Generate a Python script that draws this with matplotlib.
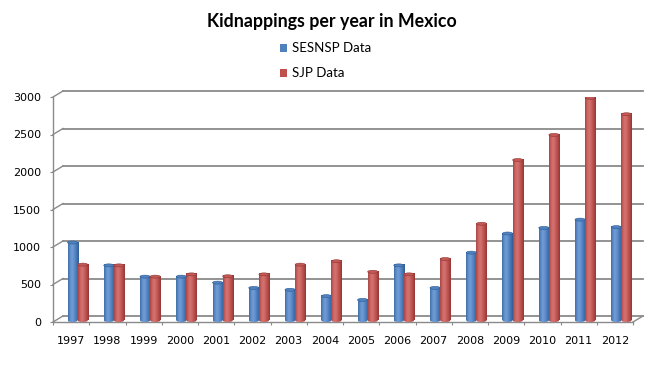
import numpy as np
import matplotlib.pyplot as plt
from matplotlib.patches import Ellipse
from matplotlib.colors import to_rgb

years = ['1997', '1998', '1999', '2000', '2001', '2002', '2003', '2004',
         '2005', '2006', '2007', '2008', '2009', '2010', '2011', '2012']
sesnsp = [1040, 735, 585, 585, 505, 435, 410, 325, 275, 735, 435, 905, 1160, 1235, 1345, 1245]
sjp = [745, 735, 585, 615, 590, 615, 745, 790, 650, 615, 820, 1290, 2140, 2475, 2970, 2750]
yticks = [0, 500, 1000, 1500, 2000, 2500, 3000]

fig = plt.figure(figsize=(6.59, 3.68), dpi=100)
ax = fig.add_axes([53 / 659, 46 / 368, 580 / 659, 225 / 368])
ax.set_xlim(-0.5, 15.5)
ax.set_ylim(0, 3000)

# depth offset of the back wall (10 px right, 6 px up)
dx = 10 / 36.25
dy = 6 / 0.075
grid_c = '#8a8a8a'
for v in yticks:
    ax.plot([-0.5 + dx, 15.5 + dx], [v + dy, v + dy], color=grid_c, lw=1.3,
            clip_on=False, zorder=1)
    ax.plot([-0.5, -0.5 + dx], [v, v + dy], color=grid_c, lw=1.0,
            clip_on=False, zorder=1)
ax.plot([15.5, 15.5 + dx], [0, dy], color=grid_c, lw=1.0, clip_on=False, zorder=1)


def shade(base, light, dark, n=64):
    # cylinder look: dark edges, soft highlight left of centre
    t = np.linspace(0, 1, n)
    b, l, d = np.array(to_rgb(base)), np.array(to_rgb(light)), np.array(to_rgb(dark))
    hi = np.exp(-((t - 0.38) / 0.25) ** 2)[:, None]
    edge = (np.abs(t - 0.45) / 0.55)[:, None] ** 2.5
    cols = b * (1 - edge) + d * edge
    cols = cols * (1 - hi) + l * hi
    return np.clip(cols, 0, 1)[np.newaxis, :, :]


styles = [
    (sesnsp, 0.04, '#4A7EBE', '#6f9ad4', '#2f5a92', '#4f82c0'),
    (sjp, 0.32, '#C0504D', '#d2716e', '#8f3634', '#c45855'),
]
w = 0.28
base = 20
cap = 40
x = np.arange(len(years))
for vals, off, col, light, dark, topc in styles:
    img = shade(col, light, dark)
    for xi, v in zip(x, vals):
        x0 = xi + off - w / 2
        x1 = xi + off + w / 2
        ax.imshow(img, extent=(x0, x1, base, base + v), aspect='auto',
                  interpolation='bilinear', zorder=3)
        bot = Ellipse((xi + off, base), w, cap, facecolor='none', edgecolor='none')
        ax.add_patch(bot)
        im2 = ax.imshow(img, extent=(x0, x1, base - cap / 2, base), aspect='auto',
                        interpolation='bilinear', zorder=3)
        im2.set_clip_path(bot)
        ax.add_patch(Ellipse((xi + off, base + v), w, cap, facecolor=topc,
                             edgecolor=dark, lw=0.4, zorder=4))

ax.set_xlim(-0.5, 15.5)
ax.set_ylim(0, 3000)

for s in ['top', 'right']:
    ax.spines[s].set_visible(False)
for s in ['left', 'bottom']:
    ax.spines[s].set_color(grid_c)
    ax.spines[s].set_linewidth(1.0)

ax.set_yticks(yticks)
ax.set_yticklabels([str(v) for v in yticks], fontsize=8, family='DejaVu Sans')
ax.set_xticks(x)
ax.set_xticklabels(years, fontsize=8, family='DejaVu Sans')
ax.set_xticks(np.arange(-0.5, 16, 1), minor=True)
ax.tick_params(axis='y', length=2.5, width=0.8, color=grid_c, pad=6)
ax.tick_params(axis='x', which='major', length=0, pad=10)
ax.tick_params(axis='x', which='minor', length=2.5, width=0.8, color=grid_c)

fig.text(332 / 659, 1 - 22 / 368, 'Kidnappings per year in Mexico', ha='center',
         va='center', fontsize=12.8, fontweight='bold', family='Lato')
for label, col, yy in [('SESNSP Data', '#4F81BD', 48), ('SJP Data', '#C0504D', 73)]:
    fig.patches.append(plt.Rectangle((280 / 659, 1 - (yy + 3.5) / 368), 7 / 659, 7 / 368,
                                     transform=fig.transFigure, facecolor=col,
                                     edgecolor='none'))
    fig.text(292 / 659, 1 - yy / 368, label, ha='left', va='center', fontsize=9.5,
             family='Lato')

fig.savefig('out.png', dpi=100)
